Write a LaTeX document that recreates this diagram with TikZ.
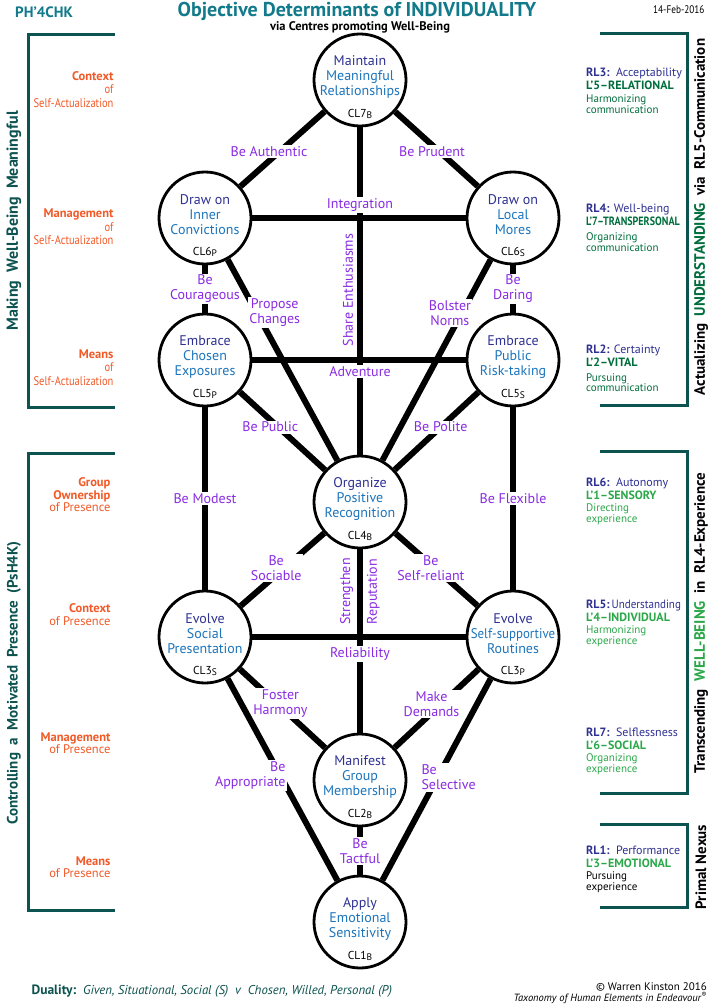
\documentclass[tikz,border=0pt]{standalone}
\usepackage{fontspec}
\setmainfont{PT Sans}
\newfontfamily\condfont{PT Sans}[FakeStretch=0.84]
\newfontfamily\semicond{PT Sans}[FakeStretch=0.92]
\usetikzlibrary{positioning}
\definecolor{ttl}{RGB}{18,122,138}
\definecolor{dkteal}{RGB}{13,83,79}
\definecolor{orng}{RGB}{241,90,41}
\definecolor{purp}{RGB}{138,43,226}
\definecolor{navy}{RGB}{46,49,146}
\definecolor{blu}{RGB}{28,117,188}
\definecolor{dkgreen}{RGB}{0,110,60}
\definecolor{brgreen}{RGB}{43,168,74}
\newcommand\cltag[2]{CL#1\raisebox{-1.5pt}{\fontsize{9.5}{9.5}\selectfont #2}}
\tikzset{
		>=stealth
	}

\begin{document}
\begin{tikzpicture}[x=1pt,y=-1pt]
	\tikzstyle{centre}=[draw, circle, line width=2.8pt, fill=white, minimum size=92pt, inner sep=0pt]
	\tikzstyle{ctext}=[text=blu, font=\fontsize{14}{15}\selectfont, align=center, yshift=3pt]
	\tikzstyle{ctag}=[font=\fontsize{11.5}{12}\selectfont, yshift=-34pt]
	\tikzstyle{link}=[line width=6pt]
	\tikzstyle{lab}=[fill=white, text=purp, font=\fontsize{14}{15}\selectfont, align=center, inner sep=1.5pt]
	\tikzstyle{vlab}=[text=purp, font=\fontsize{14}{15}\selectfont, rotate=90, inner sep=4pt]
	\tikzstyle{side}=[text=orng, font=\fontsize{12.5}{13.5}\selectfont, align=right, anchor=east]
	\tikzstyle{lowside}=[text=orng, font=\fontsize{12.5}{12.5}\selectfont, align=right, anchor=east]
	\tikzstyle{rlhead}=[text=navy, font=\fontsize{12}{13}\selectfont, align=left, anchor=west, inner sep=0pt]
	\tikzstyle{rldesc}=[font=\fontsize{11}{10.5}\selectfont, align=left, anchor=west, inner sep=0pt]
	\tikzstyle{bracket}=[draw=dkteal, line width=3pt]
	\tikzstyle{bartext}=[rotate=90, font=\bfseries\fontsize{15}{15}\selectfont]
	% Page
	\fill[white] (0,0) rectangle (715,1008);
	\useasboundingbox (0,0) rectangle (715,1008);
	% Heading
	\node[text=ttl, font=\bfseries\fontsize{15}{15}\selectfont] (code) at (44,12) {PH’4CHK};
	\node[text=ttl, font=\bfseries\fontsize{20}{20}\selectfont] (title) at (357,11) {Objective Determinants of INDIVIDUALITY};
	\node[font=\bfseries\fontsize{12.5}{12.5}\selectfont] (subtitle) at (360,27) {via Centres promoting Well-Being};
	\node[font=\condfont\fontsize{11}{11}\selectfont, anchor=east] (date) at (708,10) {14-Feb-2016};
	% Centres
	\node[centre] (cl7) at (360,80) {};
	\node[centre, on grid] (cl6p) [below left=138pt and 155pt of cl7] {};
	\node[centre, on grid] (cl6s) [right=308pt of cl6p] {};
	\node[centre, on grid] (cl5p) [below=142pt of cl6p] {};
	\node[centre, on grid] (cl5s) [right=308pt of cl5p] {};
	\node[centre, on grid] (cl4b) [below=422pt of cl7] {};
	\node[centre, on grid] (cl3s) [below=277pt of cl5p] {};
	\node[centre, on grid] (cl3p) [right=308pt of cl3s] {};
	\node[centre, on grid] (cl2b) [below=278pt of cl4b] {};
	\node[centre, on grid] (cl1b) [below=142pt of cl2b] {};
	% Centre texts
	\node[ctext] at (cl7) {\textcolor{navy}{Maintain}\\Meaningful\\Relationships};
	\node[ctag] at (cl7) {\cltag{7}{B}};
	\node[ctext] at (cl6p) {\textcolor{navy}{Draw on}\\Inner\\Convictions};
	\node[ctag] at (cl6p) {\cltag{6}{P}};
	\node[ctext] at (cl6s) {\textcolor{navy}{Draw on}\\Local\\Mores};
	\node[ctag] at (cl6s) {\cltag{6}{S}};
	\node[ctext] at (cl5p) {\textcolor{navy}{Embrace}\\Chosen\\Exposures};
	\node[ctag] at (cl5p) {\cltag{5}{P}};
	\node[ctext] at (cl5s) {\textcolor{navy}{Embrace}\\Public\\Risk-taking};
	\node[ctag] at (cl5s) {\cltag{5}{S}};
	\node[ctext] at (cl4b) {\textcolor{navy}{Organize}\\Positive\\Recognition};
	\node[ctag] at (cl4b) {\cltag{4}{B}};
	\node[ctext] at (cl3s) {\textcolor{navy}{Evolve}\\Social\\Presentation};
	\node[ctag] at (cl3s) {\cltag{3}{S}};
	\node[ctext] at (cl3p) {\textcolor{navy}{Evolve}\\{\semicond Self-supportive}\\Routines};
	\node[ctag] at (cl3p) {\cltag{3}{P}};
	\node[ctext] at (cl2b) {\textcolor{navy}{Manifest}\\Group\\Membership};
	\node[ctag] at (cl2b) {\cltag{2}{B}};
	\node[ctext] at (cl1b) {\textcolor{navy}{Apply}\\Emotional\\Sensitivity};
	\node[ctag] at (cl1b) {\cltag{1}{B}};
	% Vertical paths
	\draw[link] (cl7) -- (cl4b)
		node[lab, pos=.236] {Integration}
		node[vlab, anchor=south, pos=.497] {Share Enthusiasms}
		node[lab, pos=.745] {Adventure};
	\draw[link] (cl4b) -- (cl2b)
		node[vlab, anchor=south, pos=.23] {Strengthen}
		node[vlab, anchor=north, pos=.23] {Reputation}
		node[lab, pos=.57] {Reliability};
	\draw[link] (cl6p) -- (cl5p) node[lab, midway] {Be\\Courageous};
	\draw[link] (cl6s) -- (cl5s) node[lab, midway] {Be\\Daring};
	\draw[link] (cl5p) -- (cl3s) node[lab, midway] {Be Modest};
	\draw[link] (cl5s) -- (cl3p) node[lab, midway] {Be Flexible};
	\draw[link] (cl2b) -- (cl1b) node[lab, midway] {Be\\Tactful};
	% Horizontal paths
	\draw[link] (cl6p) -- (cl6s);
	\draw[link] (cl5p) -- (cl5s);
	\draw[link] (cl3s) -- (cl3p);
	% Diagonal paths
	\draw[link] (cl7) -- (cl6p) node[lab, pos=.53, xshift=-11pt] {Be Authentic};
	\draw[link] (cl7) -- (cl6s) node[lab, pos=.53, xshift=-7pt] {Be Prudent};
	\draw[link] (cl6p) -- (cl4b) node[lab, pos=.265, xshift=18pt] {Propose\\Changes};
	\draw[link] (cl6s) -- (cl4b) node[lab, pos=.265, xshift=-12pt] {Bolster\\Norms};
	\draw[link] (cl5p) -- (cl4b) node[lab, pos=.45, xshift=-8pt] {Be Public};
	\draw[link] (cl5s) -- (cl4b) node[lab, pos=.45] {Be Polite};
	\draw[link] (cl4b) -- (cl3s) node[lab, pos=.48, xshift=-8pt] {Be\\Sociable};
	\draw[link] (cl4b) -- (cl3p) node[lab, pos=.48, xshift=-4pt] {Be\\Self-reliant};
	\draw[link] (cl3s) -- (cl2b) node[lab, pos=.44, xshift=3pt] {Foster\\Harmony};
	\draw[link] (cl3p) -- (cl2b) node[lab, pos=.44, xshift=-10pt] {Make\\Demands};
	\draw[link] (cl3s) -- (cl1b) node[lab, pos=.48, xshift=-30pt, align=right] {Be\\Appropriate};
	\draw[link] (cl3p) -- (cl1b) node[lab, pos=.49, xshift=11pt, align=left] {Be\\Selective};
	% Left brackets
	\draw[bracket] (115,35) -| (28,407) -- (115,407);
	\draw[bracket] (115,453) -| (28,910) -- (115,910);
	\node[bartext, text=dkteal, font=\bfseries\fontsize{16}{16}\selectfont] (mwb) at (14,221) {Making~~Well-Being~~Meaningful};
	\node[bartext, text=dkteal] (cmp) at (14,683) {Controlling~~a~~Motivated~~Presence~~(PsH4K)};
	\node[side] (sa1) at (117,89.5) {\textbf{Context}\\{\condfont of}\\{\condfont Self-Actualization}};
	\node[side] (sa2) at (117,227) {\textbf{Management}\\{\condfont of}\\{\condfont Self-Actualization}};
	\node[side] (sa3) at (117,367.5) {\textbf{Means}\\{\condfont of}\\{\condfont Self-Actualization}};
	\node[lowside] (pr1) at (114,495) {\textbf{Group}\\\textbf{Ownership}\\of Presence};
	\node[lowside] (pr2) at (114,614.5) {\textbf{Context}\\of Presence};
	\node[lowside] (pr3) at (114,743) {\textbf{Management}\\of Presence};
	\node[lowside] (pr4) at (114,867) {\textbf{Means}\\of Presence};
	% Right brackets
	\draw[bracket] (600,34) -| (687,405) -- (600,405);
	\draw[bracket] (600,451) -| (687,793) -- (600,793);
	\draw[bracket] (600,824) -| (687,907) -- (600,907);
	\node[bartext] (act) at (701,217) {Actualizing~~\textcolor{dkgreen}{UNDERSTANDING}~~via~~RL5-Communication};
	\node[bartext] (trs) at (701,623) {Transcending~~\textcolor{brgreen}{WELL-BEING}~~in~~RL4-Experience};
	\node[bartext] (pnx) at (701,867) {Primal Nexus};
	\node[rlhead] (rl3) at (586,78.5) {\textbf{RL3:}~~Acceptability\\\textcolor{dkgreen}{\textbf{L’5–RELATIONAL}}};
	\node[rldesc, text=dkgreen] (rl3d) at (586,104) {Harmonizing\\communication};
	\node[rlhead] (rl4) at (586,215) {\textbf{RL4:} Well-being\\\textcolor{dkgreen}{\condfont\bfseries L’7–TRANSPERSONAL}};
	\node[rldesc, text=dkgreen] (rl4d) at (586,242) {Organizing\\communication};
	\node[rlhead] (rl2) at (586,356) {\textbf{RL2:} Certainty\\\textcolor{dkgreen}{\textbf{L’2–VITAL}}};
	\node[rldesc, text=dkgreen] (rl2d) at (586,382.5) {Pursuing\\communication};
	\node[rlhead] (rl6) at (586,488.5) {\textbf{RL6:}~~Autonomy\\\textcolor{brgreen}{\textbf{L’1–SENSORY}}};
	\node[rldesc, text=brgreen] (rl6d) at (586,514) {Directing\\experience};
	\node[rlhead] (rl5) at (586,611) {\textbf{RL5:}{\semicond\,Understanding}\\\textcolor{brgreen}{\textbf{L’4–INDIVIDUAL}}};
	\node[rldesc, text=brgreen] (rl5d) at (586,636) {Harmonizing\\experience};
	\node[rlhead] (rl7) at (586,738.5) {\textbf{RL7:}~~Selflessness\\\textcolor{brgreen}{\textbf{L’6–SOCIAL}}};
	\node[rldesc, text=brgreen] (rl7d) at (586,764) {Organizing\\experience};
	\node[rlhead] (rl1) at (586,856.5) {\textbf{RL1:}~~Performance\\\textcolor{brgreen}{\textbf{L’3–EMOTIONAL}}};
	\node[rldesc] (rl1d) at (586,882) {Pursuing\\experience};
	% Footer
	\node[anchor=west, text=dkteal, font=\fontsize{12.8}{13}\selectfont] (duality) at (28,991) {{\fontsize{13.5}{13.5}\selectfont\textbf{Duality:}}~~\textit{Given, Situational, Social (S)~~v~~Chosen, Willed, Personal (P)}};
	\node[anchor=east, align=right, font=\fontsize{11}{11}\selectfont, inner sep=0pt] (copy) at (707,993) {© Warren Kinston 2016\\{\fontsize{10.5}{11}\selectfont\itshape Taxonomy of Human Elements in Endeavour\textsuperscript{®}}};
\end{tikzpicture}
\end{document}
